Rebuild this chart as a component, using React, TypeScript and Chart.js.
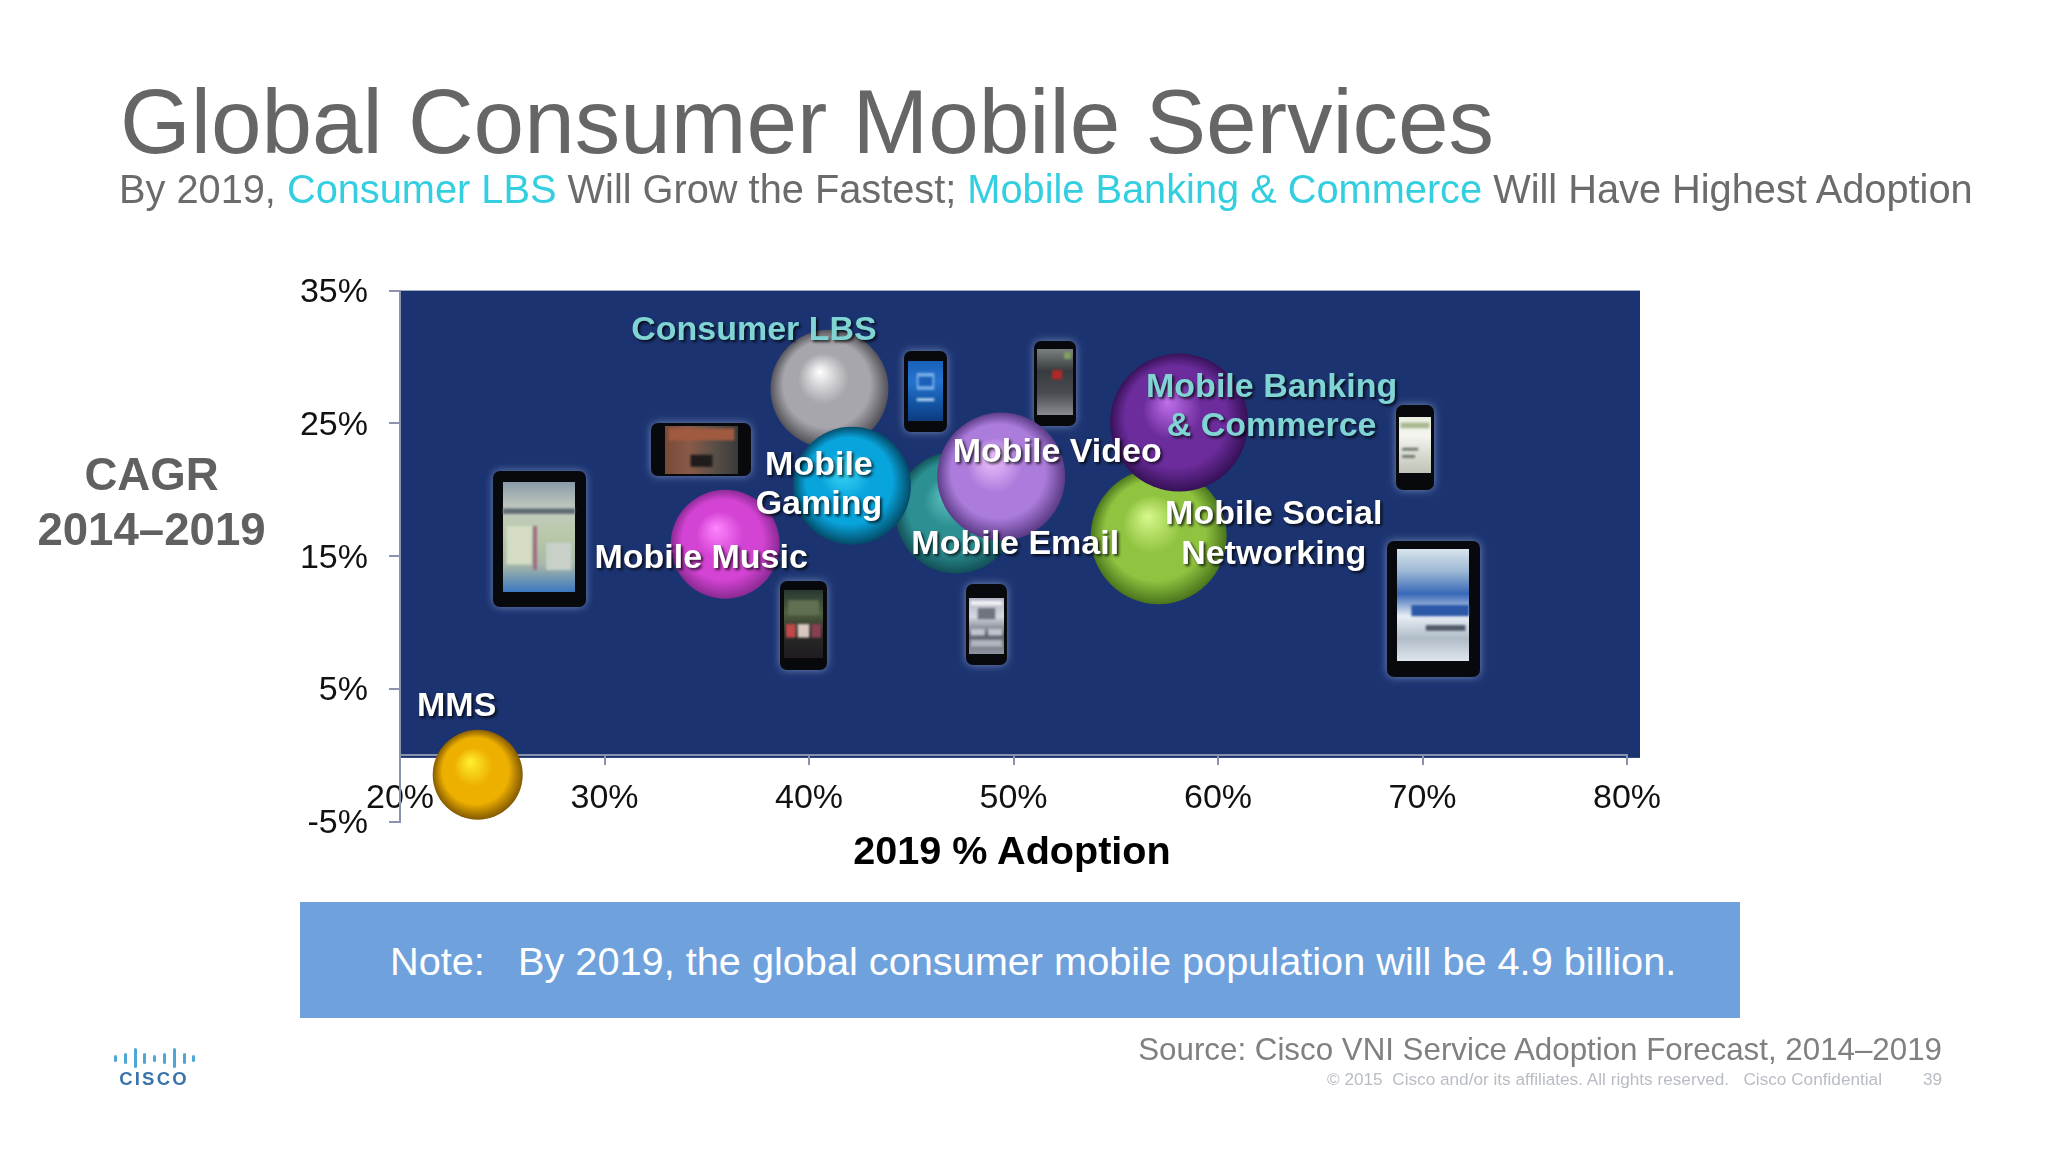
import React, { useEffect, useRef } from "react";
import { Chart, registerables } from "chart.js";

Chart.register(...registerables);

const services = ["Consumer LBS", "Mobile Email", "Mobile Gaming", "Mobile Video", "Mobile Music", "Mobile Social Networking", "Mobile Banking & Commerce", "MMS"];
const adoption = [41.0, 47.2, 42.1, 49.4, 35.9, 57.1, 58.1, 23.8];
const cagr = [27.6, 18.3, 20.3, 21.0, 15.9, 16.5, 25.06, -1.46];
const bubbleSize = [59, 61, 59, 64, 54.5, 68, 69, 45];
const xTicks = [20, 30, 40, 50, 60, 70, 80];
const yTicks = [-5, 5, 15, 25, 35];

const sphereShades = [
  ["#ffffff", "#a6a6ac", "#4c4c52"],
  ["#60c4c2", "#2c9092", "#104c54"],
  ["#40dcfa", "#08a4dc", "#034560"],
  ["#f2c4ff", "#ac7cdc", "#553680"],
  ["#ff84ff", "#d444d4", "#86288f"],
  ["#d8f88c", "#90c440", "#46701a"],
  ["#c070ec", "#6c2c9c", "#320f52"],
  ["#fff030", "#eeb000", "#7c5400"],
];

const labelLines = [
  ["Consumer LBS"], ["Mobile Email"], ["Mobile", "Gaming"], ["Mobile Video"], ["Mobile Music"],
  ["Mobile Social", "Networking"], ["Mobile Banking", "& Commerce"], ["MMS"],
];
const labelOffsets = [
  [-75.5, -58], [59, 32], [-33, -20.5], [56, -24], [-24, 14], [115, -21.5], [92.5, -35], [-21, -68.5],
];
const labelColors = ["#80d4d4", "#ffffff", "#ffffff", "#ffffff", "#ffffff", "#ffffff", "#80d4d4", "#ffffff"];

type Device = { box: number[]; screen: number[]; colors: string[]; details: (number | string)[][] };
const devices: Device[] = [
  {
    box: [493, 471, 93, 136], screen: [503, 482, 72, 110],
    colors: ["#8a9aa8", "#c4ccc0", "#b8c8a8", "#a8b8a8", "#3c78c0"],
    details: [[0, 0.24, 1, 0.05, "#606c74"], [0.05, 0.4, 0.35, 0.35, "#d4dcc4"], [0.42, 0.4, 0.05, 0.4, "#a06880"], [0.6, 0.55, 0.35, 0.25, "#c8d0c8"]],
  },
  {
    box: [651, 423, 100, 53], screen: [665, 426, 73, 48],
    colors: ["#7a4a38", "#8a5a48", "#5a5048", "#3a3a38"],
    details: [[0.05, 0.05, 0.9, 0.25, "#a05a40"], [0.35, 0.6, 0.3, 0.25, "#201c1c"]],
  },
  {
    box: [904, 351, 43, 81], screen: [908, 361, 35, 60],
    colors: ["#1a60b8", "#2474d0", "#1458a8", "#0c3c80"],
    details: [[0.25, 0.2, 0.5, 0.28, "#7cb0e8"], [0.3, 0.26, 0.4, 0.16, "#1a60b8"], [0.25, 0.62, 0.5, 0.05, "#b0d0f0"]],
  },
  {
    box: [780, 581, 47, 89], screen: [784, 590, 39, 68],
    colors: ["#283830", "#506040", "#282828", "#201c20"],
    details: [[0.05, 0.5, 0.25, 0.2, "#c04848"], [0.35, 0.5, 0.3, 0.2, "#d8c8c0"], [0.7, 0.5, 0.25, 0.2, "#884050"], [0.1, 0.15, 0.8, 0.22, "#607050"]],
  },
  {
    box: [966, 584, 41, 81], screen: [969, 598, 35, 56],
    colors: ["#b0b4c4", "#d4d8e0", "#606470", "#9094a0"],
    details: [[0.05, 0.05, 0.9, 0.08, "#f0f0f4"], [0.25, 0.18, 0.5, 0.2, "#70747c"], [0.05, 0.55, 0.4, 0.12, "#c0c4cc"], [0.55, 0.55, 0.4, 0.12, "#c0c4cc"], [0.05, 0.75, 0.9, 0.12, "#b0b4bc"]],
  },
  {
    box: [1034, 341, 42, 85], screen: [1037, 349, 36, 66],
    colors: ["#7a8080", "#383c40", "#484c50", "#888c90"],
    details: [[0.42, 0.32, 0.28, 0.14, "#b02828"], [0.75, 0.05, 0.2, 0.1, "#80a060"]],
  },
  {
    box: [1396, 405, 38, 85], screen: [1399, 417, 32, 56],
    colors: ["#e8eee0", "#f4f4f0", "#d8dcd0", "#c0c4b8"],
    details: [[0.05, 0.1, 0.9, 0.1, "#a8b890"], [0.1, 0.55, 0.5, 0.05, "#70746c"], [0.1, 0.68, 0.4, 0.05, "#70746c"]],
  },
  {
    box: [1387, 541, 93, 136], screen: [1397, 549, 72, 112],
    colors: ["#d8e4ec", "#9cb8d4", "#3868b8", "#e8eef4", "#b0bcc8", "#dfe6ec"],
    details: [[0.2, 0.5, 0.8, 0.1, "#2c58a8"], [0.4, 0.68, 0.55, 0.05, "#505a68"]],
  },
];

const logoBars = [7, 11, 20, 11, 7, 11, 20, 11, 7];

function Txt(p: { x?: number; right?: number; y: number; size: number; color: string; bold?: boolean; center?: boolean; spacing?: number; children: React.ReactNode }) {
  const style: React.CSSProperties = {
    position: "absolute",
    top: p.y,
    transform: p.center ? "translate(-50%,-50%)" : "translateY(-50%)",
    fontFamily: '"Liberation Sans", Arial, sans-serif',
    fontSize: p.size,
    fontWeight: p.bold ? 700 : 400,
    color: p.color,
    whiteSpace: "pre",
    lineHeight: 1.15,
    letterSpacing: p.spacing ?? 0,
  };
  if (p.x !== undefined) style.left = p.x;
  if (p.right !== undefined) style.right = 2048 - p.right;
  return <div style={style}>{p.children}</div>;
}

const panelPlugin = {
  id: "panel",
  beforeDraw(chart: any) {
    const { ctx, scales } = chart;
    const l = scales.x.getPixelForValue(20);
    const r = scales.x.getPixelForValue(80) + 13;
    const t = scales.y.getPixelForValue(35);
    const b = scales.y.getPixelForValue(0) + 2.5;
    ctx.save();
    ctx.fillStyle = "#1b3370";
    ctx.fillRect(l, t, r - l, b - t);
    for (const d of devices) {
      const [x, y, w, h] = d.box;
      ctx.save();
      ctx.shadowColor = "rgba(170,190,230,0.6)";
      ctx.shadowBlur = 8;
      ctx.fillStyle = "#08090c";
      ctx.beginPath();
      ctx.roundRect(x, y, w, h, 7);
      ctx.fill();
      ctx.restore();
      const [sx, sy, sw, sh] = d.screen;
      const horizontal = w > h;
      const g = horizontal ? ctx.createLinearGradient(sx, sy, sx + sw, sy) : ctx.createLinearGradient(sx, sy, sx, sy + sh);
      d.colors.forEach((c, i) => g.addColorStop(i / (d.colors.length - 1), c));
      ctx.fillStyle = g;
      ctx.fillRect(sx, sy, sw, sh);
      ctx.save();
      ctx.filter = "blur(1.2px)";
      for (const [fx, fy, fw, fh, c] of d.details) {
        ctx.fillStyle = c as string;
        ctx.fillRect(sx + (fx as number) * sw, sy + (fy as number) * sh, (fw as number) * sw, (fh as number) * sh);
      }
      ctx.restore();
    }
    ctx.restore();
  },
};

const labelPlugin = {
  id: "bubbleLabels",
  afterDatasetsDraw(chart: any) {
    const { ctx, scales } = chart;
    ctx.save();
    ctx.font = 'bold 34px "Liberation Sans", Arial, sans-serif';
    ctx.textAlign = "center";
    ctx.textBaseline = "middle";
    ctx.shadowColor = "rgba(0,0,0,0.75)";
    ctx.shadowBlur = 3;
    ctx.shadowOffsetX = 2;
    ctx.shadowOffsetY = 2;
    services.forEach((_, i) => {
      const px = scales.x.getPixelForValue(adoption[i]) + labelOffsets[i][0];
      const py = scales.y.getPixelForValue(cagr[i]) + labelOffsets[i][1];
      ctx.fillStyle = labelColors[i];
      labelLines[i].forEach((line, k) => ctx.fillText(line, px, py + k * 39.5));
    });
    ctx.restore();
  },
};

export default function App() {
  const ref = useRef<HTMLCanvasElement>(null);
  useEffect(() => {
    const canvas = ref.current!;
    const chart = new Chart(canvas, {
      type: "bubble",
      data: {
        datasets: [
          {
            label: "Global consumer mobile services",
            data: services.map((_, i) => ({ x: adoption[i], y: cagr[i], r: bubbleSize[i] })),
            clip: false,
            borderWidth: 0,
            hoverRadius: 0,
            backgroundColor: (c: any) => {
              const i = c.dataIndex;
              const ch = c.chart;
              if (i === undefined || !ch.scales.x) return "#888888";
              const px = ch.scales.x.getPixelForValue(adoption[i]);
              const py = ch.scales.y.getPixelForValue(cagr[i]);
              if (!Number.isFinite(px) || !Number.isFinite(py)) return "#888888";
              const r = bubbleSize[i];
              const g = ch.ctx.createRadialGradient(px - r * 0.17, py - r * 0.3, 0, px, py, r * 1.02);
              const s = sphereShades[i];
              g.addColorStop(0, s[0]);
              g.addColorStop(0.42, s[1]);
              g.addColorStop(0.72, s[1]);
              g.addColorStop(1, s[2]);
              return g;
            },
          } as any,
        ],
      },
      options: {
        animation: false,
        responsive: false,
        devicePixelRatio: 1,
        layout: { padding: { left: 290, right: 421, top: 290.6, bottom: 330.2 } },
        plugins: { legend: { display: false }, tooltip: { enabled: false }, title: { display: false } },
        scales: {
          x: {
            type: "linear",
            min: 20,
            max: 80,
            position: { y: 0 } as any,
            afterFit: (s: any) => { s.height = 0; },
            afterBuildTicks: (s: any) => { s.ticks = xTicks.map((value) => ({ value })); },
            grid: { drawOnChartArea: false, drawTicks: true, tickLength: 9, color: "#8a93ab", lineWidth: 2 },
            border: { color: "#8a93ab", width: 2 },
            ticks: {
              color: "#111111",
              padding: 14,
              autoSkip: false,
              maxRotation: 0,
              font: { family: '"Liberation Sans", Arial, sans-serif', size: 34 },
              callback: (v: any) => `${v}%`,
            },
          },
          y: {
            type: "linear",
            min: -5,
            max: 35,
            position: "left",
            afterFit: (s: any) => { s.width = 110; },
            afterBuildTicks: (s: any) => { s.ticks = yTicks.map((value) => ({ value })); },
            grid: { drawOnChartArea: false, drawTicks: true, tickLength: 11, color: "#8a93ab", lineWidth: 2 },
            border: { color: "#8a93ab", width: 2 },
            ticks: {
              color: "#111111",
              padding: 21,
              labelOffset: 2,
              autoSkip: false,
              font: { family: '"Liberation Sans", Arial, sans-serif', size: 34 },
              callback: (v: any) => `${v}%`,
            },
          },
        },
      },
      plugins: [panelPlugin, labelPlugin],
    } as any);
    return () => chart.destroy();
  }, []);

  return (
    <div style={{ position: "absolute", left: 0, top: 0, width: 2048, height: 1152, background: "#ffffff", overflow: "hidden" }}>
      <canvas ref={ref} width={2048} height={1152} style={{ position: "absolute", left: 0, top: 0, width: 2048, height: 1152, display: "block" }} />
      <Txt x={120} y={122} size={90.9} color="#666666">Global Consumer Mobile Services</Txt>
      <Txt x={119} y={190} size={39.75} color="#6b6b6b">
        By 2019, <span style={{ color: "#33cfe0" }}>Consumer LBS</span> Will Grow the Fastest; <span style={{ color: "#33cfe0" }}>Mobile Banking &amp; Commerce</span> Will Have Highest Adoption
      </Txt>
      <Txt x={151.5} y={475} size={45.6} color="#606060" bold center>CAGR</Txt>
      <Txt x={151.5} y={530} size={45.6} color="#606060" bold center>2014–2019</Txt>
      <Txt x={1012} y={851} size={39.6} color="#000000" bold center>2019 % Adoption</Txt>
      <div style={{ position: "absolute", left: 300, top: 902, width: 1440, height: 116, background: "#6fa2dd" }} />
      <Txt x={390} y={962} size={39.7} color="#ffffff">Note:</Txt>
      <Txt x={518} y={962} size={39.7} color="#ffffff">By 2019, the global consumer mobile population will be 4.9 billion.</Txt>
      <Txt right={1942} y={1050} size={31.3} color="#808080">Source: Cisco VNI Service Adoption Forecast, 2014–2019</Txt>
      <Txt x={1327} y={1080} size={17.2} color="#b8bcc4">© 2015  Cisco and/or its affiliates. All rights reserved.   Cisco Confidential</Txt>
      <Txt right={1942} y={1080} size={17.2} color="#b8bcc4">39</Txt>
      <div style={{ position: "absolute", left: 112, top: 1044, width: 84, height: 30 }}>
        {logoBars.map((h, i) => (
          <div key={i} style={{ position: "absolute", left: 2 + i * 9.8, top: 14 - h / 2, width: 3, height: h, background: "#4fa6d6", borderRadius: 2 }} />
        ))}
      </div>
      <Txt x={154} y={1079} size={18.5} color="#3a74aa" bold center spacing={2.2}>CISCO</Txt>
    </div>
  );
}
